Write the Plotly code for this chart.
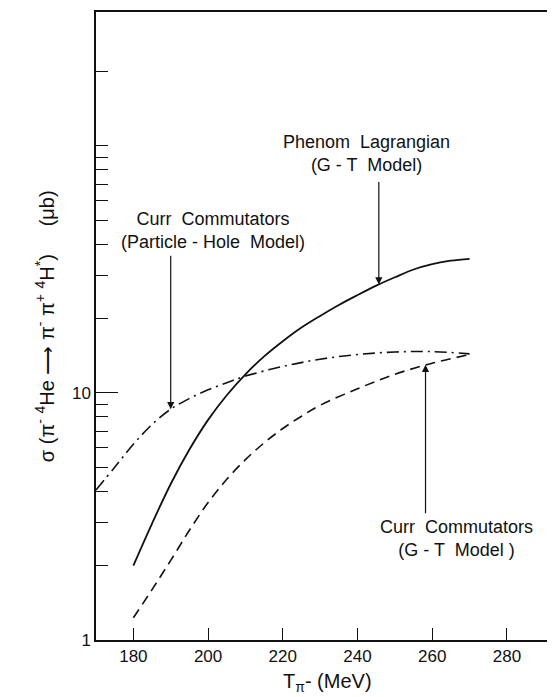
import numpy as np
import plotly.graph_objects as go

# --- data ---
x_phenom = [180, 185, 190, 195, 200, 205, 210, 215, 220, 225, 230, 235, 240, 245, 250, 255, 260, 265, 270]
y_phenom = [2.0, 2.96, 4.28, 5.9, 7.78, 9.79, 11.9, 14.06, 16.2, 18.4, 20.5, 22.7, 24.9, 27.2,
            29.4, 31.6, 33.2, 34.3, 34.9]

x_ph = [170, 175, 180, 185, 190, 195, 200, 205, 210, 220, 230, 240, 250, 260, 270]
y_ph = [4.05, 5.0, 6.2, 7.45, 8.6, 9.5, 10.3, 11.0, 11.7, 12.8, 13.7, 14.3, 14.65, 14.7, 14.4]

x_gt = [180, 185, 190, 195, 200, 205, 210, 215, 220, 225, 230, 240, 250, 260, 270]
y_gt = [1.23, 1.6, 2.1, 2.78, 3.6, 4.47, 5.37, 6.28, 7.18, 8.05, 8.91, 10.4, 11.9, 13.2, 14.3]

x_ticks = [180, 200, 220, 240, 260, 280]
y_major = [1, 10]
y_major_text = ["1", "10"]
y_minor = [2, 3, 4, 5, 6, 7, 8, 9, 20, 30, 40, 50, 60, 70, 80, 90, 100, 200]

INK = "#111111"
FONT = "Liberation Sans"

fig = go.Figure()
fig.add_trace(go.Scatter(x=x_phenom, y=y_phenom, mode="lines",
                         line=dict(color=INK, width=1.8, shape="spline", smoothing=1.0),
                         hoverinfo="skip"))
fig.add_trace(go.Scatter(x=x_ph, y=y_ph, mode="lines",
                         line=dict(color=INK, width=1.6, shape="spline",
                                   dash="12px,5px,2px,5px"),
                         hoverinfo="skip"))
fig.add_trace(go.Scatter(x=x_gt, y=y_gt, mode="lines",
                         line=dict(color=INK, width=1.6, shape="spline",
                                   dash="10px,6px"),
                         hoverinfo="skip"))

lab_font = dict(size=18, family=FONT, color=INK)
annotations = [
    dict(text="Phenom  Lagrangian<br>(G - T  Model)", xref="paper", yref="paper",
         x=0.579, y=0.775, xanchor="center", yanchor="middle", showarrow=False, font=lab_font),
    dict(text="Curr  Commutators<br>(Particle - Hole  Model)", xref="paper", yref="paper",
         x=0.2505, y=0.652, xanchor="center", yanchor="middle", showarrow=False, font=lab_font),
    dict(text="Curr  Commutators<br>(G - T  Model )", xref="paper", yref="paper",
         x=0.771, y=0.161, xanchor="center", yanchor="middle", showarrow=False, font=lab_font),
    # arrows
    dict(text="", x=245.7, y=np.log10(27.5), xref="x", yref="y", ax=0, ay=-104,
         showarrow=True, arrowhead=2, arrowsize=1.2, arrowwidth=1.2, arrowcolor=INK),
    dict(text="", x=190, y=np.log10(8.6), xref="x", yref="y", ax=0, ay=-155,
         showarrow=True, arrowhead=2, arrowsize=1.2, arrowwidth=1.2, arrowcolor=INK),
    dict(text="", x=258.2, y=np.log10(13.0), xref="x", yref="y", ax=0, ay=150,
         showarrow=True, arrowhead=2, arrowsize=1.2, arrowwidth=1.2, arrowcolor=INK),
    # axis titles
    dict(text="σ (π<sup>-</sup> <sup>4</sup>He ⟶ π<sup>-</sup> π<sup>+</sup> <sup>4</sup>H<sup>*</sup>)     (μb)",
         xref="paper", yref="paper", x=-0.111, y=0.5, xanchor="center", yanchor="middle",
         textangle=-90, showarrow=False,
         font=dict(size=20, family=FONT, color=INK)),
    dict(text="T<sub>π</sub>- (MeV)", xref="paper", yref="paper", x=0.496, y=-0.068,
         xanchor="center", yanchor="middle",
         showarrow=False, font=dict(size=20, family=FONT, color=INK)),
]

fig.update_layout(
    width=555, height=697,
    margin=dict(l=88, r=0, t=4, b=65),
    paper_bgcolor="white", plot_bgcolor="white",
    showlegend=False,
    annotations=annotations,
    font=dict(family=FONT, color=INK),
    xaxis=dict(range=[170, 295], tickvals=x_ticks, ticks="inside", ticklen=12,
               tickwidth=1.3, tickcolor=INK, showline=True, linecolor=INK, linewidth=1.5,
               mirror=True, showgrid=False, zeroline=False,
               tickfont=dict(size=17, family=FONT, color=INK)),
    yaxis=dict(type="log", range=[0, 2.542], tickmode="array", tickvals=y_major,
               ticktext=y_major_text, ticks="inside", ticklen=22, tickwidth=1.3,
               tickcolor=INK, showline=True, linecolor=INK, linewidth=1.5,
               showgrid=False, zeroline=False,
               tickfont=dict(size=17, family=FONT, color=INK),
               minor=dict(tickmode="array", tickvals=y_minor, ticks="inside",
                          ticklen=12, tickwidth=1.3, tickcolor=INK, showgrid=False)),
)

fig.write_html("out.html")
